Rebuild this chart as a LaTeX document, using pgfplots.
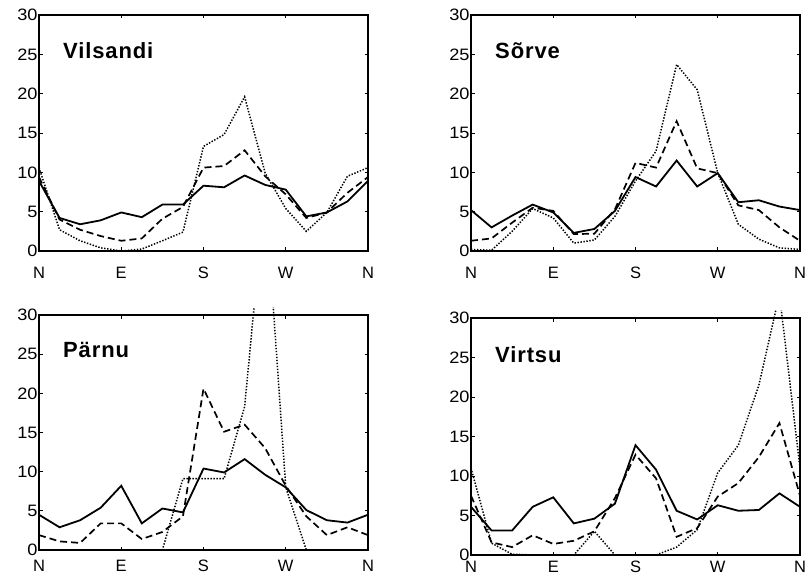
\documentclass[border=0pt]{standalone}
\usepackage{fontspec}
\setmainfont{Liberation Sans}
\newfontfamily\tickfont{Liberation Sans}[FakeStretch=1.1]
\newfontfamily\titlefont{Liberation Sans Bold}[LetterSpace=4]
\usepackage{pgfplots}
\pgfplotsset{compat=1.18}

% wind direction sectors: 0..16 = N ... N
\pgfplotsset{
  windrose/.style={
    scale only axis, width=329pt, anchor=south west,
    xmin=0, xmax=16, ymin=0, ymax=30,
    xtick={0,4,8,12,16}, xticklabels={N,E,S,W,N},
    ytick={0,5,...,30},
    tick align=inside, major tick length=3.5pt,
    axis line style={line width=1.2pt},
    every tick/.style={black, line width=0.7pt},
    yticklabel style={font=\tickfont\fontsize{16.5}{18}\selectfont, xshift=2pt},
    xticklabel style={font=\fontsize{16.5}{18}\selectfont, text height=12pt, text depth=0pt},
    /pgf/number format/assume math mode=true,
  },
  over/.style={scale only axis, width=329pt, anchor=south west,
    xmin=0, xmax=16, ymin=0, ymax=31, hide axis},
}
\tikzset{
  s1/.style={black, line width=1.8pt},
  s2/.style={black, line width=1.7pt, dash pattern=on 7pt off 4pt},
  s3/.style={black, line width=1.5pt, dash pattern=on 1.4pt off 1.6pt},
  station/.style={font=\titlefont\fontsize{22}{26}\selectfont, anchor=base west, inner sep=0pt},
}

\begin{document}
\begin{tikzpicture}
\useasboundingbox (0,0) rectangle (809pt,582pt);

% Vilsandi
\begin{axis}[windrose, at={(39pt,331pt)}, height=236pt, xticklabel style={yshift=-12pt}]
\addplot[s1] coordinates {(0,8.9)(1,4.2)(2,3.4)(3,3.9)(4,4.9)(5,4.3)(6,5.9)(7,5.9)(8,8.3)(9,8.1)(10,9.6)(11,8.4)(12,7.8)(13,4.4)(14,4.9)(15,6.3)(16,8.9)};
\addplot[s2] coordinates {(0,9.4)(1,4.0)(2,2.7)(3,1.9)(4,1.3)(5,1.6)(6,4.1)(7,5.6)(8,10.6)(9,10.8)(10,12.8)(11,9.5)(12,7.2)(13,4.2)(14,4.9)(15,7.4)(16,9.4)};
\addplot[s3] coordinates {(0,10.6)(1,2.7)(2,1.3)(3,0.4)(4,0.0)(5,0.25)(6,1.3)(7,2.4)(8,13.3)(9,14.8)(10,19.6)(11,9.9)(12,5.4)(13,2.5)(14,4.9)(15,9.5)(16,10.6)};
\node[station] at (rel axis cs:0.073,0.814) {Vilsandi};
\end{axis}

% Sõrve
\begin{axis}[windrose, at={(471pt,331pt)}, height=236pt, xticklabel style={yshift=-12pt}]
\addplot[s1] coordinates {(0,5.2)(1,3.0)(2,4.5)(3,5.9)(4,4.9)(5,2.3)(6,2.8)(7,5.1)(8,9.4)(9,8.2)(10,11.5)(11,8.2)(12,9.9)(13,6.2)(14,6.45)(15,5.65)(16,5.2)};
\addplot[s2] coordinates {(0,1.3)(1,1.6)(2,3.6)(3,5.5)(4,5.1)(5,2.15)(6,2.2)(7,5.3)(8,11.2)(9,10.6)(10,16.5)(11,10.5)(12,9.9)(13,5.8)(14,5.2)(15,3.0)(16,1.3)};
\addplot[s3] coordinates {(0,0.2)(1,0.1)(2,2.5)(3,5.4)(4,4.2)(5,1.0)(6,1.4)(7,4.4)(8,8.9)(9,12.7)(10,23.7)(11,20.5)(12,9.9)(13,3.4)(14,1.5)(15,0.4)(16,0.2)};
\node[station] at (rel axis cs:0.073,0.814) {Sõrve};
\end{axis}

% Pärnu
\begin{axis}[windrose, at={(39pt,32pt)}, height=235pt, xticklabel style={yshift=-6pt}]
\addplot[s1] coordinates {(0,4.5)(1,2.9)(2,3.8)(3,5.4)(4,8.2)(5,3.4)(6,5.3)(7,4.8)(8,10.4)(9,9.9)(10,11.6)(11,9.6)(12,8.0)(13,5.1)(14,3.8)(15,3.5)(16,4.5)};
\addplot[s2] coordinates {(0,1.9)(1,1.1)(2,0.9)(3,3.4)(4,3.4)(5,1.4)(6,2.3)(7,4.3)(8,20.6)(9,15.1)(10,16.0)(11,13.0)(12,8.2)(13,4.3)(14,1.9)(15,2.9)(16,1.9)};
\node[station] at (rel axis cs:0.073,0.82) {Pärnu};
\end{axis}
\begin{axis}[over, at={(39pt,32pt)}, height=242.8pt]
\addplot[s3] coordinates {(0,0)(1,0)(2,0)(3,0)(4,0)(5,0)(6,0)(7,9.1)(8,9.1)(9,9.1)(10,18.3)(11,46)(12,8.0)(13,0)(14,0)(15,0)(16,0)};
\end{axis}

% Virtsu
\begin{axis}[windrose, at={(471pt,27pt)}, height=237pt, xticklabel style={yshift=-2pt}]
\addplot[s1] coordinates {(0,6.1)(1,3.1)(2,3.1)(3,6.1)(4,7.3)(5,4.0)(6,4.6)(7,6.5)(8,13.9)(9,10.8)(10,5.6)(11,4.5)(12,6.3)(13,5.6)(14,5.7)(15,7.8)(16,6.1)};
\addplot[s2] coordinates {(0,7.5)(1,1.6)(2,1.0)(3,2.5)(4,1.4)(5,1.8)(6,3.0)(7,7.2)(8,12.7)(9,9.7)(10,2.3)(11,3.4)(12,7.4)(13,9.1)(14,12.4)(15,16.7)(16,7.5)};
\node[station] at (rel axis cs:0.073,0.814) {Virtsu};
\end{axis}
\begin{axis}[over, at={(471pt,27pt)}, height=244.9pt]
\addplot[s3] coordinates {(0,11.0)(1,1.5)(2,0.1)(3,0)(4,0)(5,0)(6,3.0)(7,0)(8,0)(9,0)(10,1.0)(11,3.2)(12,10.4)(13,13.9)(14,21.5)(15,33)(16,11.0)};
\end{axis}
\end{tikzpicture}
\end{document}
